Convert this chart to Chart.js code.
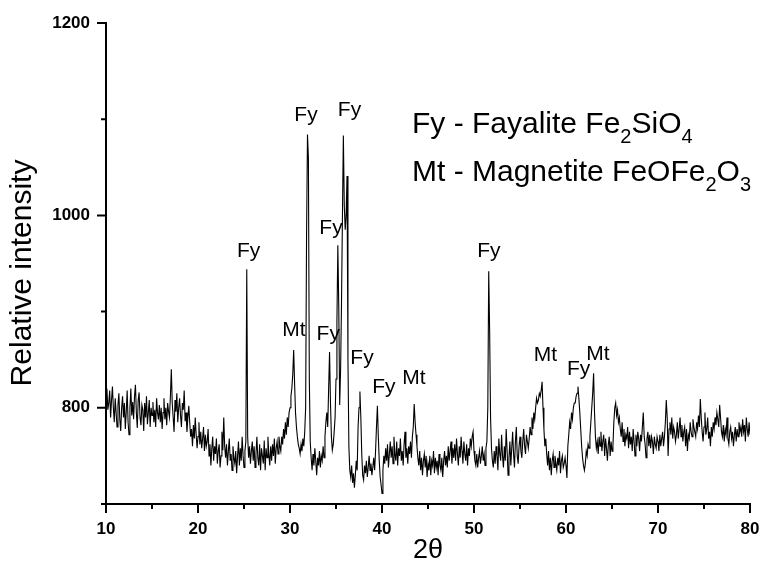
<!DOCTYPE html>
<html><head><meta charset="utf-8">
<script src="https://cdn.jsdelivr.net/npm/chart.js@4/dist/chart.umd.min.js"></script>
<style>html,body{margin:0;padding:0;background:#fff;}</style>
</head><body>
<canvas id="c" width="761" height="567"></canvas>
<script>
// 2-theta sampling of the pattern (degrees)
const thetaStart = 10;
const thetaStep = 0.1;
// Relative intensity, one row per degree (10.0 ... 80.0)
const intensity = [
 812,820,798,805,818,790,808,822,800,785,
 810,795,780,803,815,788,776,800,812,790,
 805,778,796,818,785,772,800,820,792,806,
 788,812,824,795,779,808,816,790,782,803,
 798,776,805,790,812,783,795,808,780,800,
 792,806,785,798,780,810,795,788,803,785,
 800,778,795,810,788,800,782,805,796,790,
 812,840,805,790,775,808,796,815,785,800,
 810,792,780,805,798,818,786,795,775,790,
 802,785,770,778,760,782,768,790,772,758,
 770,785,762,775,758,768,780,755,772,760,
 765,778,750,762,740,758,770,745,760,752,
 768,742,755,762,738,750,775,756,790,760,
 748,762,740,755,768,745,752,735,760,748,
 742,755,732,750,765,740,758,745,770,750,
 738,755,765,944,770,748,760,742,755,765,
 745,760,738,752,770,748,740,762,735,758,
 750,742,766,735,758,748,770,752,740,760,
 745,762,750,768,742,758,765,752,770,760,
 755,770,762,778,768,785,772,790,780,795,
 800,812,820,835,860,825,795,780,770,762,
 758,752,762,755,768,760,775,800,980,1084,
 1060,830,765,748,735,752,740,758,745,730,
 748,740,755,738,750,745,760,748,770,785,
 795,780,820,858,805,770,756,762,775,790,
 830,890,969,905,803,840,910,1000,1083,1010,
 985,1000,1041,850,760,735,728,740,722,732,
 717,730,745,735,780,800,817,790,752,730,
 725,740,732,745,728,738,750,735,742,730,
 738,748,735,755,780,802,770,745,728,720,
 711,735,750,742,758,745,762,738,752,765,
 748,760,742,770,752,745,765,740,758,750,
 768,745,755,740,762,775,748,758,742,760,
 752,765,748,770,780,804,785,772,760,748,
 740,755,735,748,730,745,752,738,750,728,
 742,735,750,730,745,740,755,732,748,738,
 745,730,752,740,735,748,728,745,755,740,
 750,738,760,745,755,765,742,758,748,762,
 745,768,752,740,760,748,770,755,742,765,
 752,745,762,740,758,750,768,760,770,775,
 755,745,740,752,738,748,755,742,750,760,
 745,752,740,758,765,800,942,880,790,758,
 745,738,755,742,760,750,735,768,752,745,
 772,750,738,760,745,778,755,730,748,765,
 740,758,775,752,738,765,780,750,742,760,
 770,755,748,765,778,760,752,772,765,758,
 768,780,772,790,778,795,788,800,810,805,
 808,815,812,818,827,800,778,760,768,752,
 740,755,735,748,730,745,752,738,750,742,
 735,748,740,755,732,745,750,738,742,748,
 740,727,760,772,785,778,795,788,800,805,
 805,812,815,822,810,795,778,760,748,740,
 735,742,755,750,762,758,770,785,800,815,
 836,795,770,758,765,752,770,760,775,755,
 765,772,750,768,758,745,762,770,750,765,
 755,760,785,800,805,792,798,785,790,778,
 770,785,765,778,760,772,768,780,758,775,
 762,770,755,778,765,750,772,760,775,768,
 755,772,765,780,795,770,762,748,768,775,
 760,772,758,770,765,752,770,762,758,770,
 765,755,772,760,768,775,760,770,785,808,
 790,750,778,785,772,790,768,780,775,765,
 772,785,768,778,790,770,782,765,775,780,
 760,778,755,772,768,785,775,770,788,780,
 775,770,785,778,792,780,809,790,775,765,
 780,795,772,778,790,768,775,760,780,770,
 785,778,790,782,795,788,780,803,790,775,
 770,782,765,778,772,790,768,762,775,780,
 768,775,760,772,780,765,778,770,785,775,
 780,770,788,775,782,765,790,778,770,785,
 772
];

// Axis ticks
const xMajorTicks = [10, 20, 30, 40, 50, 60, 70, 80];
const xMinorTicks = [15, 25, 35, 45, 55, 65, 75];
const yMajorTicks = [800, 1000, 1200];
const yMinorTicks = [700, 900, 1100];

// Peak annotations (phase, 2-theta, intensity of label baseline)
const peakLabels    = ['Fy', 'Mt', 'Fy', 'Fy', 'Fy', 'Fy', 'Fy', 'Fy', 'Mt', 'Fy', 'Mt', 'Fy', 'Mt'];
const peakTheta     = [25.5, 30.43, 31.74, 34.16, 34.46, 36.47, 37.83, 40.2, 43.46, 51.61, 57.75, 61.37, 63.48];
const peakIntensity = [957, 875, 1098, 870, 981, 1103, 846, 815, 825, 957, 849, 834, 850];

// Phase key text: [text, isSubscript]
const keyLine1 = [['Fy - Fayalite Fe', 0], ['2', 1], ['SiO', 0], ['4', 1]];
const keyLine2 = [['Mt - Magnetite FeOFe', 0], ['2', 1], ['O', 0], ['3', 1]];

const points = intensity.map((v, i) => ({ x: Math.round((thetaStart + i * thetaStep) * 10) / 10, y: v }));

const FONT = '"Liberation Sans", Arial, sans-serif';

const decorPlugin = {
  id: 'decor',
  afterDraw(chart) {
    const ctx = chart.ctx;
    const xs = chart.scales.x, ys = chart.scales.y;
    const area = chart.chartArea;
    ctx.save();
    // tick marks
    ctx.strokeStyle = '#000';
    ctx.lineWidth = 2;
    ctx.beginPath();
    xMajorTicks.forEach(t => { const p = xs.getPixelForValue(t); ctx.moveTo(p, area.bottom); ctx.lineTo(p, area.bottom + 9); });
    xMinorTicks.forEach(t => { const p = xs.getPixelForValue(t); ctx.moveTo(p, area.bottom); ctx.lineTo(p, area.bottom + 5); });
    yMajorTicks.forEach(t => { const p = ys.getPixelForValue(t); ctx.moveTo(area.left, p); ctx.lineTo(area.left - 9, p); });
    yMinorTicks.forEach(t => { const p = ys.getPixelForValue(t); ctx.moveTo(area.left, p); ctx.lineTo(area.left - 5, p); });
    ctx.stroke();

    // peak labels
    ctx.fillStyle = '#000';
    ctx.font = '21px ' + FONT;
    ctx.textAlign = 'center';
    ctx.textBaseline = 'alphabetic';
    peakLabels.forEach((s, i) => {
      ctx.fillText(s, xs.getPixelForValue(peakTheta[i]), ys.getPixelForValue(peakIntensity[i]));
    });

    // phase key
    ctx.textAlign = 'left';
    const drawKey = (parts, x, y) => {
      parts.forEach(([txt, sub]) => {
        ctx.font = (sub ? '20px ' : '30px ') + FONT;
        ctx.fillText(txt, x, sub ? y + 10 : y);
        x += ctx.measureText(txt).width;
      });
    };
    drawKey(keyLine1, 412, 133);
    drawKey(keyLine2, 412, 181);

    // y axis title
    ctx.font = '30px ' + FONT;
    ctx.textAlign = 'center';
    ctx.textBaseline = 'middle';
    ctx.translate(23, 273);
    ctx.rotate(-Math.PI / 2);
    ctx.fillText('Relative intensity', 0, 0);
    ctx.restore();
  }
};

new Chart(document.getElementById('c'), {
  type: 'line',
  data: {
    datasets: [{
      data: points,
      borderColor: '#000',
      borderWidth: 1.1,
      pointRadius: 0,
      tension: 0,
      fill: false
    }]
  },
  options: {
    responsive: false,
    animation: false,
    devicePixelRatio: 1,
    layout: { padding: { left: 0, right: 11, top: 23, bottom: 0 } },
    plugins: { legend: { display: false }, tooltip: { enabled: false } },
    scales: {
      x: {
        type: 'linear', min: 10, max: 80,
        ticks: { stepSize: 10, padding: 15, color: '#000', maxRotation: 0, autoSkip: false,
                 font: { family: FONT, size: 17, weight: 'bold' } },
        grid: { display: false, drawTicks: false },
        border: { display: true, color: '#000', width: 2 },
        title: { display: true, text: '2θ', color: '#000', font: { family: FONT, size: 27 }, padding: { top: 0, bottom: 0 } },
        afterFit(s) { s.height = 63; s.paddingLeft = 0; s.paddingRight = 0; }
      },
      y: {
        type: 'linear', min: 700, max: 1200,
        ticks: { stepSize: 100, padding: 16, color: '#000',
                 callback: v => yMajorTicks.includes(v) ? String(v) : '',
                 font: { family: FONT, size: 17, weight: 'bold' } },
        grid: { display: false, drawTicks: false },
        border: { display: true, color: '#000', width: 2 },
        afterFit(s) { s.width = 106; s.paddingTop = 0; s.paddingBottom = 0; }
      }
    }
  },
  plugins: [decorPlugin]
});
</script>
</body></html>
